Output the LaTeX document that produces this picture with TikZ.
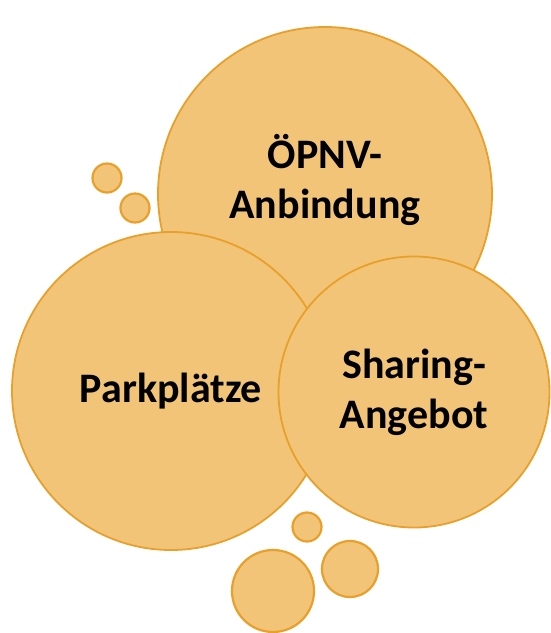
\documentclass[tikz,border=0pt]{standalone}
\usepackage{fontspec}
\setmainfont{Carlito}
\usetikzlibrary{positioning}
\definecolor{bubblefill}{HTML}{F2C478}
\definecolor{bubbleline}{HTML}{E8A02A}
\tikzstyle{bubble} = [circle, draw=bubbleline, fill=bubblefill, line width=1.8pt, inner sep=0pt]
\tikzstyle{dot} = [circle, draw=bubbleline, fill=bubblefill, line width=2.2pt, inner sep=0pt]
\tikzstyle{label} = [align=center, font=\bfseries\fontsize{42}{50}\selectfont]

\begin{document}
\begin{tikzpicture}[x=1pt,y=-1pt]
    \useasboundingbox (0,0) rectangle (550,633);
    % big bubbles
    \node [bubble, minimum size=334pt] (opnv) at (325,194) {};
    \node [label] (opnvtext) at (325,180) {ÖPNV-\\Anbindung};
    \node [bubble, minimum size=318pt, label] (parken) at (171,391) {Parkplätze};
    \node [bubble, minimum size=271pt, label] (sharing) at (414,392) {Sharing-\\Angebot};

    % small bubbles
    \node [dot, minimum size=29pt] (dotA) at (107,178) {};
    \node [dot, minimum size=29pt] (dotB) at (135,208) {};
    \node [dot, minimum size=29pt] (dotC) at (307,527) {};
    \node [dot, minimum size=56pt] (dotD) at (350,569) {};
    \node [dot, minimum size=82pt] (dotE) at (273,591) {};
\end{tikzpicture}
\end{document}
